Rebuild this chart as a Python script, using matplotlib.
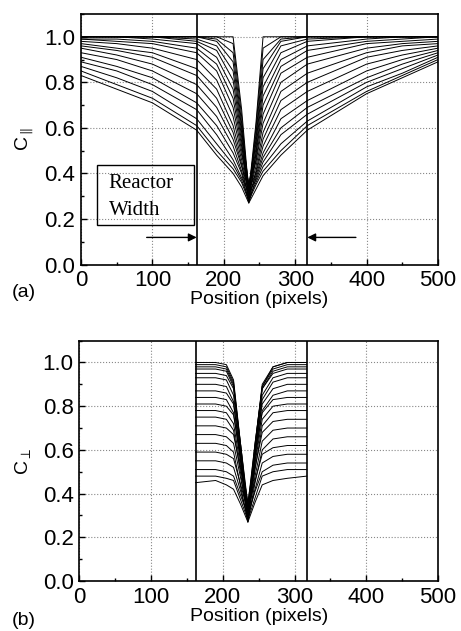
import matplotlib
matplotlib.use("Agg")
import matplotlib.pyplot as plt
from matplotlib.ticker import MultipleLocator

# ── Data ─────────────────────────────────────────────────────────────────────

# reactor wall positions (pixels)
WALL_LEFT = 162
WALL_RIGHT = 317

# panel (a): C_parallel profiles, values at these positions
pos_a = [0, 50, 100, 162, 190, 213, 225, 235, 245, 255, 280, 317, 400, 450, 500]
c_par = [
    [1.00, 1.00, 1.00, 1.00, 1.00, 1.00, 0.68, 0.32, 0.62, 1.00, 1.00, 1.00, 1.00, 1.00, 1.00],
    [1.00, 1.00, 1.00, 1.00, 1.00, 0.97, 0.65, 0.30, 0.60, 0.95, 1.00, 1.00, 1.00, 1.00, 1.00],
    [1.00, 1.00, 1.00, 1.00, 0.99, 0.93, 0.62, 0.33, 0.57, 0.90, 0.99, 1.00, 1.00, 1.00, 1.00],
    [1.00, 1.00, 1.00, 1.00, 0.98, 0.89, 0.60, 0.29, 0.55, 0.86, 0.98, 1.00, 1.00, 1.00, 1.00],
    [1.00, 1.00, 1.00, 0.99, 0.96, 0.85, 0.58, 0.35, 0.53, 0.82, 0.96, 0.99, 1.00, 1.00, 1.00],
    [1.00, 1.00, 1.00, 0.98, 0.94, 0.81, 0.56, 0.31, 0.51, 0.78, 0.93, 0.98, 1.00, 1.00, 1.00],
    [1.00, 1.00, 0.99, 0.97, 0.91, 0.77, 0.54, 0.28, 0.49, 0.74, 0.90, 0.96, 0.99, 1.00, 1.00],
    [0.99, 0.99, 0.98, 0.95, 0.88, 0.73, 0.52, 0.34, 0.48, 0.70, 0.87, 0.94, 0.98, 0.99, 1.00],
    [0.99, 0.98, 0.97, 0.93, 0.85, 0.69, 0.50, 0.30, 0.46, 0.66, 0.84, 0.91, 0.97, 0.98, 0.99],
    [0.98, 0.97, 0.95, 0.90, 0.81, 0.65, 0.48, 0.36, 0.45, 0.62, 0.80, 0.88, 0.95, 0.97, 0.98],
    [0.97, 0.95, 0.93, 0.86, 0.77, 0.61, 0.46, 0.31, 0.43, 0.58, 0.76, 0.84, 0.93, 0.96, 0.97],
    [0.96, 0.94, 0.91, 0.83, 0.73, 0.58, 0.44, 0.28, 0.41, 0.55, 0.72, 0.80, 0.91, 0.94, 0.96],
    [0.95, 0.92, 0.88, 0.79, 0.69, 0.55, 0.43, 0.33, 0.40, 0.52, 0.68, 0.76, 0.88, 0.92, 0.95],
    [0.93, 0.90, 0.85, 0.75, 0.65, 0.52, 0.41, 0.30, 0.39, 0.49, 0.64, 0.72, 0.85, 0.90, 0.94],
    [0.91, 0.87, 0.82, 0.71, 0.61, 0.49, 0.40, 0.27, 0.38, 0.47, 0.60, 0.69, 0.82, 0.88, 0.93],
    [0.89, 0.85, 0.79, 0.68, 0.57, 0.46, 0.38, 0.32, 0.37, 0.45, 0.57, 0.66, 0.80, 0.86, 0.92],
    [0.87, 0.82, 0.76, 0.64, 0.53, 0.44, 0.37, 0.29, 0.36, 0.43, 0.53, 0.63, 0.78, 0.84, 0.91],
    [0.85, 0.79, 0.73, 0.61, 0.50, 0.42, 0.36, 0.28, 0.35, 0.41, 0.50, 0.61, 0.76, 0.83, 0.90],
    [0.83, 0.77, 0.71, 0.59, 0.48, 0.40, 0.34, 0.27, 0.33, 0.39, 0.48, 0.59, 0.75, 0.82, 0.89],
]

# panel (b): C_perp profiles, only inside the reactor
pos_b = [162, 190, 205, 215, 225, 235, 245, 255, 270, 290, 317]
c_perp = [
    [1.00, 1.00, 0.99, 0.92, 0.62, 0.31, 0.62, 0.90, 0.98, 1.00, 1.00],
    [0.99, 0.99, 0.98, 0.91, 0.60, 0.29, 0.61, 0.89, 0.98, 1.00, 1.00],
    [0.98, 0.98, 0.97, 0.90, 0.62, 0.33, 0.63, 0.89, 0.97, 0.99, 0.99],
    [0.97, 0.97, 0.96, 0.89, 0.59, 0.28, 0.60, 0.88, 0.96, 0.98, 0.98],
    [0.95, 0.95, 0.94, 0.88, 0.62, 0.35, 0.63, 0.88, 0.95, 0.97, 0.97],
    [0.93, 0.93, 0.92, 0.85, 0.58, 0.30, 0.59, 0.85, 0.93, 0.95, 0.95],
    [0.90, 0.90, 0.89, 0.82, 0.55, 0.27, 0.57, 0.83, 0.91, 0.93, 0.93],
    [0.87, 0.87, 0.86, 0.81, 0.57, 0.33, 0.59, 0.81, 0.88, 0.90, 0.90],
    [0.84, 0.84, 0.83, 0.77, 0.54, 0.29, 0.55, 0.78, 0.85, 0.87, 0.87],
    [0.81, 0.81, 0.80, 0.76, 0.56, 0.36, 0.58, 0.77, 0.83, 0.84, 0.84],
    [0.78, 0.78, 0.77, 0.72, 0.52, 0.31, 0.54, 0.74, 0.80, 0.81, 0.81],
    [0.75, 0.75, 0.74, 0.69, 0.49, 0.28, 0.51, 0.71, 0.77, 0.78, 0.78],
    [0.71, 0.71, 0.70, 0.67, 0.51, 0.34, 0.52, 0.68, 0.73, 0.74, 0.74],
    [0.67, 0.67, 0.66, 0.63, 0.47, 0.30, 0.48, 0.64, 0.69, 0.70, 0.70],
    [0.63, 0.63, 0.62, 0.59, 0.43, 0.27, 0.45, 0.60, 0.65, 0.66, 0.66],
    [0.59, 0.59, 0.58, 0.56, 0.44, 0.32, 0.46, 0.58, 0.61, 0.62, 0.62],
    [0.55, 0.55, 0.54, 0.52, 0.41, 0.29, 0.42, 0.54, 0.57, 0.58, 0.58],
    [0.51, 0.51, 0.50, 0.48, 0.39, 0.30, 0.41, 0.50, 0.53, 0.54, 0.54],
    [0.48, 0.48, 0.47, 0.46, 0.37, 0.28, 0.38, 0.48, 0.50, 0.51, 0.51],
    [0.45, 0.46, 0.44, 0.42, 0.35, 0.27, 0.36, 0.44, 0.46, 0.47, 0.48],
]

X_TICKS = [0, 100, 200, 300, 400, 500]
Y_TICKS = [0.0, 0.2, 0.4, 0.6, 0.8, 1.0]

# ── Style ────────────────────────────────────────────────────────────────────

plt.rcParams["font.family"] = ["Liberation Sans", "DejaVu Sans"]
plt.rcParams["mathtext.fontset"] = "custom"
plt.rcParams["mathtext.rm"] = "Liberation Sans"
TICK_FS = 16
LABEL_FS = 14


def style_axes(ax, ylabel):
    ax.set_xlim(0, 500)
    ax.set_ylim(0, 1.1)
    ax.set_xticks(X_TICKS)
    ax.set_yticks(Y_TICKS)
    ax.set_yticklabels([f"{v:.1f}" for v in Y_TICKS])
    ax.xaxis.set_minor_locator(MultipleLocator(50))
    ax.yaxis.set_minor_locator(MultipleLocator(0.1))
    ax.tick_params(which="both", direction="in", top=False, right=False,
                   labelsize=TICK_FS, pad=4)
    ax.tick_params(which="major", length=4, width=1)
    ax.tick_params(which="minor", length=2.5, width=1)
    ax.grid(True, which="major", linestyle=":", color="#888888", linewidth=0.8)
    for sp in ax.spines.values():
        sp.set_linewidth(1.2)
    ax.set_xlabel("Position (pixels)", fontsize=LABEL_FS, labelpad=0)
    ax.set_ylabel(ylabel, fontsize=LABEL_FS, labelpad=6)
    ax.axvline(WALL_LEFT, color="black", linewidth=1.2, zorder=4)
    ax.axvline(WALL_RIGHT, color="black", linewidth=1.2, zorder=4)


fig = plt.figure(figsize=(4.61, 6.31), dpi=100)
ax_a = fig.add_axes([0.1757, 0.5808, 0.7744, 0.397])
ax_b = fig.add_axes([0.1720, 0.0792, 0.7781, 0.381])

# ── Panel (a) ────────────────────────────────────────────────────────────────
for row in c_par:
    ax_a.plot(pos_a, row, color="black", linewidth=0.7, zorder=3)
style_axes(ax_a, r"C$_{\parallel}$")

ax_a.add_patch(plt.Rectangle((22.8, 0.173), 135.9, 0.263, fill=False,
                             edgecolor="black", linewidth=1.0, zorder=5))
ax_a.text(39, 0.355, "Reactor", family=["Liberation Serif"], fontsize=15,
          va="center", ha="left", zorder=6)
ax_a.text(39, 0.237, "Width", family=["Liberation Serif"], fontsize=15,
          va="center", ha="left", zorder=6)
ax_a.annotate("", xy=(WALL_LEFT, 0.119), xytext=(92, 0.119),
              arrowprops=dict(arrowstyle="-|>", color="black", lw=1.0,
                              mutation_scale=12, shrinkA=0, shrinkB=0))
ax_a.annotate("", xy=(WALL_RIGHT, 0.119), xytext=(385, 0.119),
              arrowprops=dict(arrowstyle="-|>", color="black", lw=1.0,
                              mutation_scale=12, shrinkA=0, shrinkB=0))

# ── Panel (b) ────────────────────────────────────────────────────────────────
for row in c_perp:
    ax_b.plot(pos_b, row, color="black", linewidth=0.7, zorder=3)
style_axes(ax_b, r"C$_{\perp}$")

fig.text(0.026, 0.536, "(a)", fontsize=LABEL_FS, va="center", ha="left")
fig.text(0.026, 0.016, "(b)", fontsize=LABEL_FS, va="center", ha="left")

fig.savefig("out.png", dpi=100)
